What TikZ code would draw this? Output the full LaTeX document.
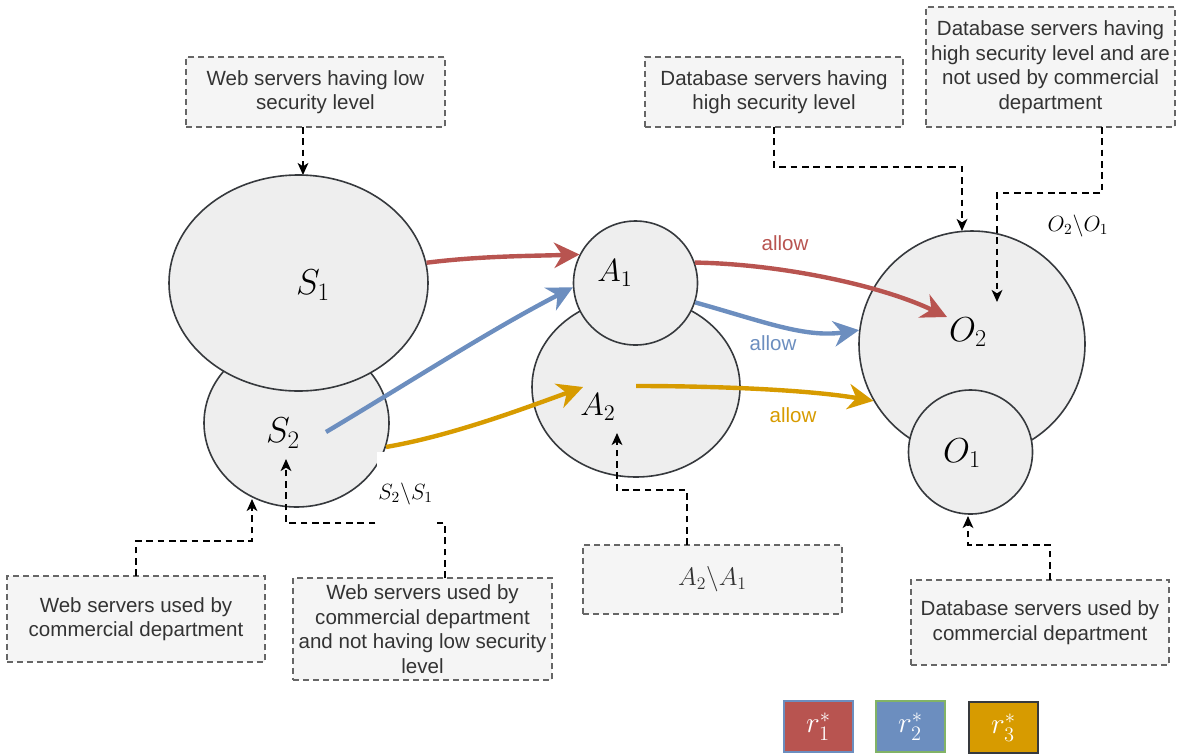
\RequirePackage{fix-cm}
\documentclass[tikz,border=0pt]{standalone}
\usepackage[no-math]{fontspec}
\setmainfont{Liberation Sans}
\usetikzlibrary{arrows.meta,shapes.geometric}
\definecolor{ellfill}{HTML}{EEEEEE}
\definecolor{ellstroke}{HTML}{36393D}
\definecolor{boxfill}{HTML}{F5F5F5}
\definecolor{boxstroke}{HTML}{666666}
\definecolor{txt}{HTML}{333333}
\definecolor{cred}{HTML}{B85450}
\definecolor{cblue}{HTML}{6C8EBF}
\definecolor{cyel}{HTML}{D79B00}
\definecolor{cgreen}{HTML}{82B366}
\tikzset{
  ell/.style={draw=ellstroke, fill=ellfill, line width=1.2pt, inner sep=0pt},
  note/.style={draw=boxstroke, fill=boxfill, dash pattern=on 4.5pt off 3pt, line width=1.1pt,
    text=txt, font=\fontsize{15.4}{18.4}\selectfont, align=center, inner sep=0pt},
  link/.style={draw=black, dash pattern=on 5pt off 3.5pt, line width=1.5pt,
    -{Stealth[length=9pt,width=8pt,inset=2.5pt]}},
  flow/.style={line width=3.3pt, -{Stealth[length=19pt,width=19pt,inset=6pt]}},
  setlbl/.style={inner sep=0pt, font=\fontsize{26}{30}\selectfont},
  cutlbl/.style={fill=white, inner sep=0pt, font=\fontsize{16.5}{19}\selectfont},
  allowlbl/.style={inner sep=0pt, font=\fontsize{15.4}{18.4}\selectfont},
  legendbox/.style={line width=1.1pt, minimum width=51.75pt, minimum height=38.25pt,
    inner sep=0pt, text=white, font=\fontsize{22}{26}\selectfont},
}
\begin{document}
\begin{tikzpicture}[x=0.75pt,y=-0.75pt]
\useasboundingbox (0,0) rectangle (1181,754);

% sets
\node[ell, ellipse, minimum width=138.75pt, minimum height=126pt] (S2) at (296.5,423) {};
\node[ell, ellipse, minimum width=194.25pt, minimum height=162pt] (S1) at (298.5,283) {};
\node[ell, ellipse, minimum width=156pt, minimum height=135pt] (A2) at (636,387) {};
\node[ell, circle, minimum size=93pt] (A1) at (635.5,283) {};
\node[ell, circle, minimum size=169.5pt] (O2) at (972,344) {};
\node[ell, circle, minimum size=93pt] (O1) at (970.5,452) {};

\node[setlbl, font=\fontsize{27}{30}\selectfont] (S1l) at (313,285) {$S_1$};
\node[setlbl, font=\fontsize{27}{30}\selectfont] (S2l) at (283,433) {$S_2$};
\node[setlbl, font=\fontsize{24}{26}\selectfont] (A1l) at (615,273) {$A_1$};
\node[setlbl, font=\fontsize{24}{26}\selectfont] (A2l) at (598,407) {$A_2$};
\node[setlbl] (O2l) at (968,332) {$O_2$};
\node[setlbl] (O1l) at (962,453) {$O_1$};

% note boxes
\node[note, minimum width=194.25pt, minimum height=52.5pt] (box1) at (315.5,92)
  {Web servers having low\\security level};
\node[note, minimum width=193.5pt, minimum height=52.5pt] (box2) at (774,92)
  {Database servers having\\high security level};
\node[note, minimum width=186.75pt, minimum height=90pt] (box3) at (1050.5,67)
  {Database servers having\\high security level and are\\not used by commercial\\department};
\node[note, minimum width=193.5pt, minimum height=64.5pt] (boxL) at (136,619)
  {Web servers used by\\commercial department};
\node[note, minimum width=194.25pt, minimum height=76.5pt] (boxM) at (422.5,629)
  {Web servers used by\\commercial department\\and not having low security\\level};
\node[note, minimum width=194.25pt, minimum height=51.75pt, font=\fontsize{19}{22}\selectfont] (boxA) at (712.5,579.5)
  {$A_2\backslash A_1$};
\node[note, minimum width=193.5pt, minimum height=63.75pt] (boxR) at (1040,622.5)
  {Database servers used by\\commercial department};

% flow arrows
\coordinate (b0) at (326,432);
\coordinate (y1) at (583,387);
\coordinate (y2) at (636,386);
\coordinate (r2) at (947,317);
\draw[flow, cred] (S1.9) .. controls (480,256) and (530,256) .. (A1.153);
\draw[flow, cblue] (b0) .. controls (410,382) and (490,330) .. (A1.184);
\draw[flow, cyel] (S2.-15) .. controls (450,436) and (520,410) .. (y1);
\draw[flow, cred] (A1.19) .. controls (780,264) and (880,285) .. (r2);
\draw[flow, cblue] (A1.-18) .. controls (765,322) and (805,338) .. (O2.173);
\draw[flow, cyel] (y2) .. controls (720,386) and (810,390) .. (O2.210);

\node[allowlbl, text=cred] (al1) at (785,243) {allow};
\node[allowlbl, text=cblue] (al2) at (773,343) {allow};
\node[allowlbl, text=cyel] (al3) at (793,415) {allow};

% dashed pointers
\coordinate (p1a) at (303,127); \coordinate (p1b) at (303,175);
\draw[link] (p1a) -- (p1b);

\coordinate (p2a) at (774,127); \coordinate (p2b) at (962,231);
\draw[link] (p2a) -- (774,167) -- (962,167) -- (p2b);

\coordinate (p3a) at (1102,127); \coordinate (p3b) at (997,302);
\draw[link] (p3a) -- (1102,193) -- (997,193) -- (p3b);

\coordinate (pLa) at (136,576); \coordinate (pLb) at (252,499);
\draw[link] (pLa) -- (136,541) -- (252,541) -- (pLb);

\coordinate (pMa) at (445,578); \coordinate (pMb) at (286,459);
\draw[link] (pMa) -- (445,523) -- (286,523) -- (pMb);

\coordinate (pAa) at (687,545); \coordinate (pAb) at (617,433);
\draw[link] (pAa) -- (687,490) -- (617,490) -- (pAb);

\coordinate (pRa) at (1050,580); \coordinate (pRb) at (968,516);
\draw[link] (pRa) -- (1050,545) -- (968,545) -- (pRb);

% difference labels (with white backgrounds)
\node[cutlbl, minimum width=42.75pt, minimum height=63pt] (S21) at (405.5,494) {$S_2\backslash S_1$};
\node[cutlbl, minimum width=49.5pt, minimum height=47pt] (O21) at (1078,226) {$O_2\backslash O_1$};

% legend
\node[legendbox, fill=cred, draw=cblue] (r1) at (818.5,726.5) {$r^*_1$};
\node[legendbox, fill=cblue, draw=cgreen] (r2l) at (910.5,726.5) {$r^*_2$};
\node[legendbox, fill=cyel, draw=ellstroke] (r3) at (1003.5,727.5) {$r^*_3$};
\end{tikzpicture}
\end{document}
